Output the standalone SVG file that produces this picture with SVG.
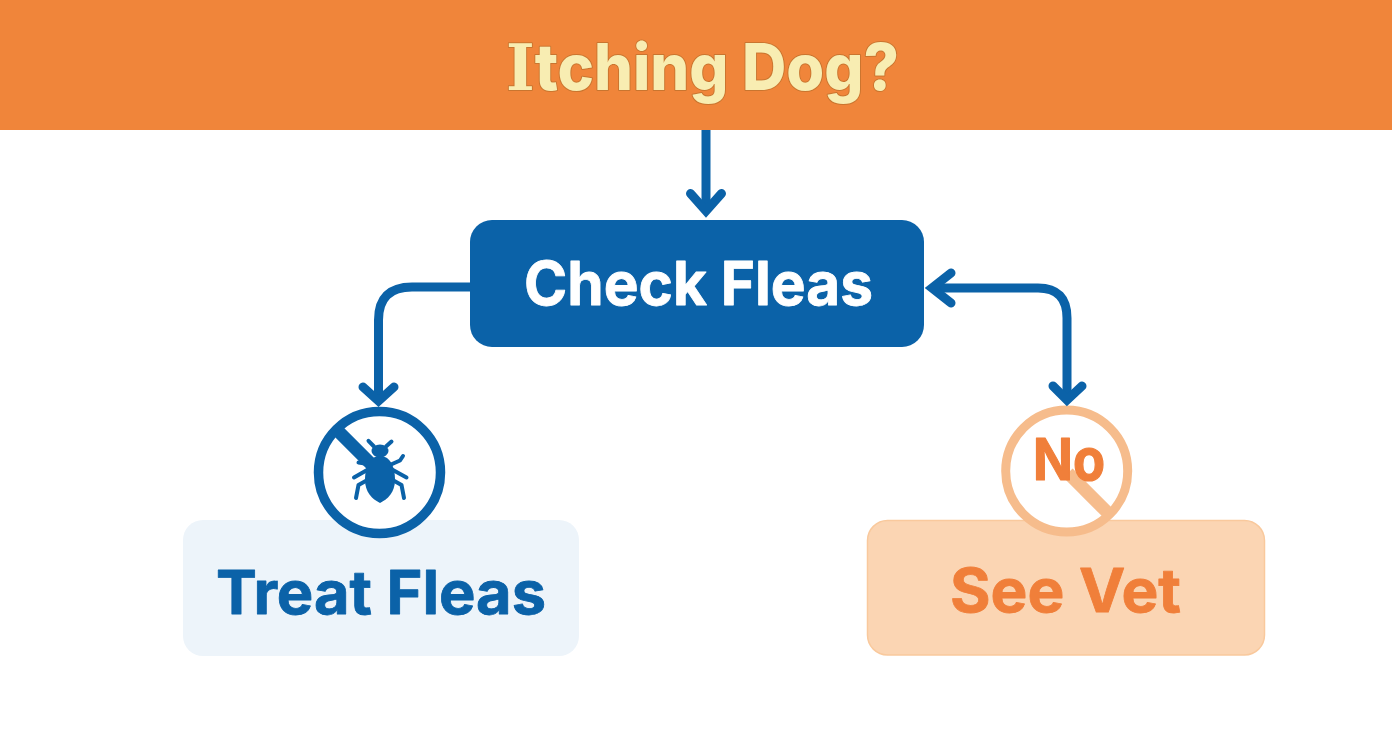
<svg xmlns="http://www.w3.org/2000/svg" width="1392" height="752" viewBox="0 0 1392 752">
<style>
text{font-family:"Inter","Liberation Sans",sans-serif;font-weight:700;text-anchor:middle;stroke-linejoin:round}
.conn{fill:none;stroke:#0B62A8;stroke-width:9;stroke-linecap:butt}
.head{fill:none;stroke:#0B62A8;stroke-width:9;stroke-linecap:round;stroke-linejoin:miter}
.blue{fill:#0B62A8}
.leg{fill:none;stroke:#0B62A8;stroke-width:4;stroke-linecap:round;stroke-linejoin:round}
</style>
<rect width="1392" height="752" fill="#fff"/>
<g id="node-itching-dog">
<rect x="0" y="0" width="1392" height="130" fill="#F0853A"/>
<text x="702.500" y="90" font-size="64" fill="#F8EDB2" stroke="#C9752F" stroke-width="2" paint-order="stroke" style="font-weight:800" textLength="393" lengthAdjust="spacingAndGlyphs"><tspan style="font-family:'DejaVu Serif',serif">I</tspan>tching Dog?</text>
</g>
<g id="node-check-fleas">
<rect x="470" y="220" width="454" height="127" rx="22" class="blue"/>
<text x="698.500" y="305" font-size="60" fill="#fff" stroke="#fff" stroke-width="0.8" textLength="349" lengthAdjust="spacingAndGlyphs">Check Fleas</text>
</g>
<g id="node-treat-fleas">
<rect x="183" y="520" width="396" height="136" rx="20" fill="#EDF4FA"/>
<circle cx="379.500" cy="472.500" r="61" fill="#fff" stroke="#0B62A8" stroke-width="9.500"/>
<path d="M336 429L371 464" fill="none" stroke="#0B62A8" stroke-width="13"/>
<path class="blue" d="M380 456C391 456 395 468 395 480C395 492 388 499 380 503C372 499 365 492 365 480C365 468 369 456 380 456Z"/>
<ellipse cx="380" cy="451" rx="8.500" ry="6.500" class="blue"/>
<path class="leg" d="M368.500 440.800L374 446.500M391.500 441.500L386 446.500M358.500 462.500L368 464M391 464.500L400 460.500L403 456M354 477.500L368 469.500M406.500 477.500L392 469.500M356 498L358.500 485L366.500 480.500M404 498L401.500 485L393.500 480.500"/>
<text x="381" y="614" font-size="60" fill="#0B62A8" stroke="#0B62A8" stroke-width="0.8" textLength="330" lengthAdjust="spacingAndGlyphs">Treat Fleas</text>
</g>
<g id="node-see-vet">
<rect x="867.500" y="520.500" width="397" height="134.500" rx="20" fill="#FBD5B3" stroke="#F9C99D" stroke-width="1.500"/>
<circle cx="1066.700" cy="471" r="61" fill="#fff" stroke="#F6BC8C" stroke-width="9"/>
<path d="M1068 473L1109 514" fill="none" stroke="#F6BC8C" stroke-width="13"/>
<text x="1069" y="480" font-size="58" fill="#F07F3A" stroke="#F07F3A" stroke-width="1.200" textLength="72" lengthAdjust="spacingAndGlyphs">No</text>
<text x="1065.500" y="612" font-size="60" fill="#F07F3A" stroke="#F07F3A" stroke-width="0.8" textLength="231" lengthAdjust="spacingAndGlyphs">See Vet</text>
</g>
<g id="connectors">
<path class="conn" d="M706 130V210"/>
<path class="head" d="M690.500 193.500L706 211L721.500 193.500"/>
<path class="conn" d="M470 287H412Q378.500 287 378.500 320V400"/>
<path class="head" d="M363 387L378.500 401L394 387"/>
<path class="conn" d="M934 288H1038Q1067 288 1067 318V398"/>
<path class="head" d="M951 273L932 288L951 303M1053 386L1067 400L1082 386"/>
</g>
</svg>
